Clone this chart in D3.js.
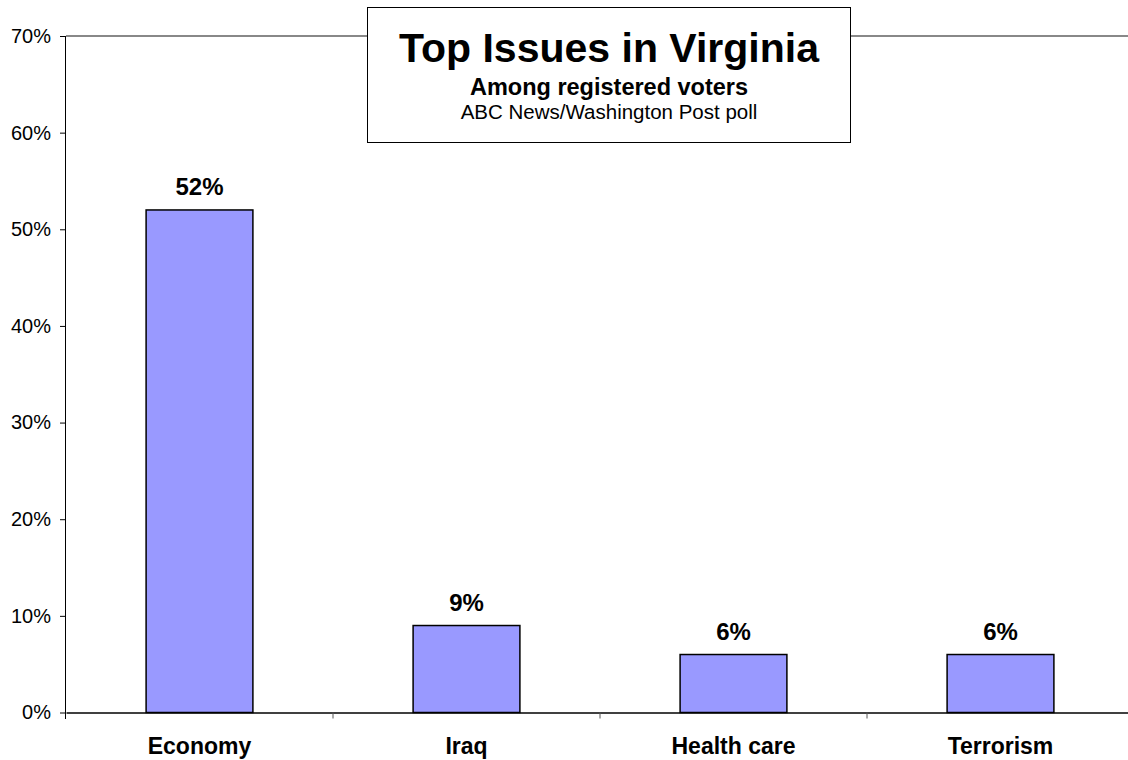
<!DOCTYPE html>
<html>
<head>
<meta charset="utf-8">
<script src="https://cdn.jsdelivr.net/npm/d3@7"></script>
<style>
  body { margin: 0; background: #fff; }
  svg { display: block; font-family: "Liberation Sans", Arial, sans-serif; }
</style>
</head>
<body>
<div id="chart"></div>
<script>
// Chart data
var issues = ["Economy", "Iraq", "Health care", "Terrorism"];
var shares = [52, 9, 6, 6];
var yTicks = [0, 10, 20, 30, 40, 50, 60, 70];

var width = 1128;
var height = 760;

var svg = d3.select("#chart")
    .append("svg")
    .attr("width", width)
    .attr("height", height);

// Scales
var xScale = d3.scaleBand()
    .domain(issues)
    .range([66, 1134])
    .paddingInner(0)
    .paddingOuter(0);

var yScale = d3.scaleLinear()
    .domain([0, 70])
    .range([712.5, 36]);

// Top frame line (gray)
svg.append("line")
    .attr("x1", 66).attr("x2", width)
    .attr("y1", yScale(70)).attr("y2", yScale(70))
    .attr("stroke", "#888").attr("stroke-width", 2);

// Y axis
var yAxis = d3.axisLeft(yScale)
    .tickValues(yTicks)
    .tickSize(6)
    .tickPadding(9)
    .tickFormat(function(d) { return d + "%"; });

var yG = svg.append("g")
    .attr("transform", "translate(66,0)")
    .call(yAxis);
yG.select(".domain").attr("stroke", "#000").attr("d", "M-0.5,36V719");
yG.selectAll("text")
    .attr("font-size", 20)
    .attr("fill", "#000")
    .attr("font-family", "Liberation Sans, Arial, sans-serif");

// Bars
svg.selectAll("rect.bar")
    .data(issues)
    .enter()
    .append("rect")
    .attr("class", "bar")
    .attr("x", function(d) { return xScale(d) + xScale.bandwidth() * 0.3; })
    .attr("width", xScale.bandwidth() * 0.4)
    .attr("y", function(d, i) { return yScale(shares[i]); })
    .attr("height", function(d, i) { return yScale(0) - yScale(shares[i]); })
    .attr("fill", "#9999FF")
    .attr("stroke", "#000")
    .attr("stroke-width", 1.5);

// X axis
var xAxis = d3.axisBottom(xScale).tickSize(0).tickFormat("");
var xG = svg.append("g")
    .attr("transform", "translate(0," + yScale(0) + ")")
    .call(xAxis);
xG.select(".domain").attr("stroke", "#000").attr("stroke-width", 1.5);

// Category boundary ticks
var bounds = issues.slice(1).map(function(d) { return xScale(d); });
xG.selectAll("line.sep")
    .data(bounds)
    .enter()
    .append("line")
    .attr("class", "sep")
    .attr("x1", function(d) { return d; })
    .attr("x2", function(d) { return d; })
    .attr("y1", 0).attr("y2", 6)
    .attr("stroke", "#555");

// Category labels
svg.selectAll("text.cat")
    .data(issues)
    .enter()
    .append("text")
    .attr("class", "cat")
    .attr("x", function(d) { return xScale(d) + xScale.bandwidth() / 2; })
    .attr("y", 754)
    .attr("text-anchor", "middle")
    .attr("font-size", 23)
    .attr("font-weight", "bold")
    .text(function(d) { return d; });

// Value labels
svg.selectAll("text.val")
    .data(issues)
    .enter()
    .append("text")
    .attr("class", "val")
    .attr("x", function(d) { return xScale(d) + xScale.bandwidth() / 2; })
    .attr("y", function(d, i) { return yScale(shares[i]) - 15; })
    .attr("text-anchor", "middle")
    .attr("font-size", 24)
    .attr("font-weight", "bold")
    .text(function(d, i) { return shares[i] + "%"; });

// Title box
var tb = svg.append("g");
tb.append("rect")
    .attr("x", 367.5).attr("y", 7.5)
    .attr("width", 483).attr("height", 135)
    .attr("fill", "#fff")
    .attr("stroke", "#000").attr("stroke-width", 1);
tb.append("text")
    .attr("x", 609).attr("y", 62)
    .attr("text-anchor", "middle")
    .attr("font-size", 41).attr("font-weight", "bold")
    .text("Top Issues in Virginia");
tb.append("text")
    .attr("x", 609).attr("y", 95)
    .attr("text-anchor", "middle")
    .attr("font-size", 23.5).attr("font-weight", "bold")
    .text("Among registered voters");
tb.append("text")
    .attr("x", 609).attr("y", 119)
    .attr("text-anchor", "middle")
    .attr("font-size", 20.5)
    .text("ABC News/Washington Post poll");
</script>
</body>
</html>
